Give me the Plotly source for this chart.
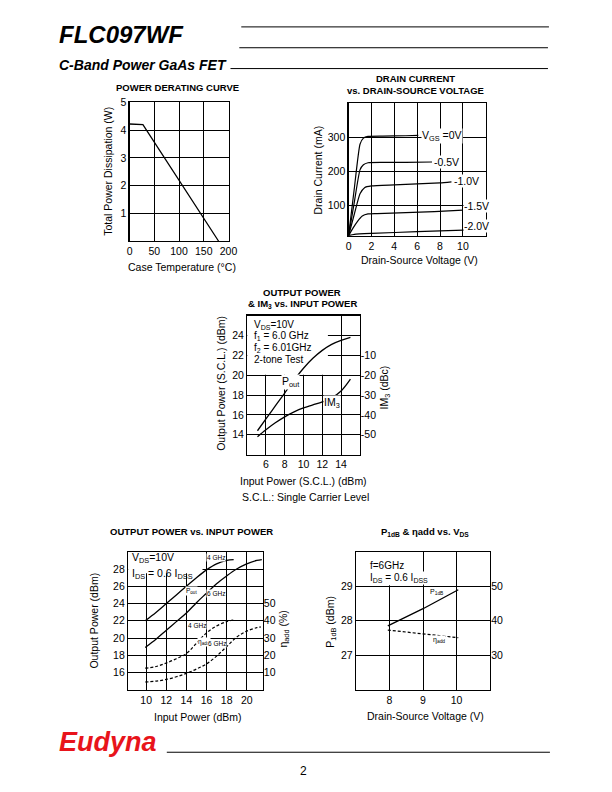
import plotly.graph_objects as go

FONT = "Liberation Sans"
# the page body keeps its default 8px margin, so the figure is drawn 8px in
W, H = 596, 776
OFF = 8


def px(x):
    return (x - OFF) / W


def py(y):
    return 1 - (y - OFF) / H


# ---- power derating curve
derate_temp = [0, 27, 180]
derate_power = [4.22, 4.2, 0]

# ---- drain current vs drain-source voltage (mA)
vds_0v = [0, 0.5, 1.0, 1.3, 1.7, 3, 5, 6.1]
id_0v = [12, 150, 280, 298, 303, 304, 305, 306]
vds_05v = [0, 0.5, 1.0, 1.3, 1.7, 3, 5, 7.3]
id_05v = [12, 110, 205, 220, 226, 227, 227, 228]
vds_10v = [0, 0.5, 1.0, 1.4, 2, 4, 6, 8, 9.0]
id_10v = [12, 75, 135, 153, 158, 161, 164, 167, 170]
vds_15v = [0, 0.4, 0.8, 1.2, 1.7, 2.5, 5, 7.5, 10]
id_15v = [12, 35, 55, 70, 76, 77, 80, 83, 87]
vds_20v = [0, 0.5, 2, 6, 11.4]
id_20v = [12, 16, 19, 24, 30]

# ---- output power & IM3 vs input power (2-tone)
pin_scl = [5.1, 6, 7, 8, 9, 10, 11, 12, 13, 14, 15]
pout_scl = [14.4, 15.6, 16.9, 18.2, 19.5, 20.7, 21.7, 22.5, 23.1, 23.5, 23.8]
im3_dbc = [-51, -47.5, -44, -41, -38.5, -36.5, -35, -33.5, -31.5, -28, -22]

# ---- output power vs input power
pin_4g = [9.9, 11, 12, 13, 14, 15, 16, 17, 18, 18.7]
pout_4g = [22.0, 23.0, 24.0, 25.0, 26.0, 27.0, 27.9, 28.6, 29.0, 29.1]
eta_4g = [12.5, 13.5, 15.5, 18, 21, 27, 33, 37, 39.5, 40.5]
pin_6g = [9.9, 11, 12, 13, 14, 15, 16, 17, 18, 19, 20, 21, 21.5]
pout_6g = [18.9, 19.9, 20.9, 21.9, 22.9, 24.1, 25.2, 26.3, 27.2, 28.0, 28.6, 29.0, 29.1]
pin_6g_eta = [9.9, 11, 12, 13, 14, 15, 16, 17, 18, 19, 20, 21, 21.4]
eta_6g = [4.5, 5, 6, 7.5, 9.5, 12, 15, 19.5, 25, 30.5, 34, 36, 36.5]

# ---- P1dB & eta_add vs VDS
vds_p1db = [7.95, 9, 10.05]
p1db = [27.85, 28.35, 28.9]
eta_p1db = [37.3, 36.3, 35.1]


def axis(x0, x1, rng, tickvals, ticktext=None, grid=True):
    a = dict(domain=[x0, x1], range=rng, tickvals=tickvals,
             showgrid=grid, gridcolor="black", gridwidth=1,
             showline=True, linecolor="black", linewidth=1.2, mirror=True,
             zeroline=False, ticks="", fixedrange=True,
             tickfont=dict(family=FONT, size=10.5, color="black"))
    if ticktext is not None:
        a["ticktext"] = ticktext
    return a


def right_axis(over, rng, tickvals, ticktext):
    return dict(overlaying=over, side="right", range=rng, tickvals=tickvals,
                ticktext=ticktext, showgrid=False, showline=False,
                zeroline=False, ticks="", fixedrange=True,
                tickfont=dict(family=FONT, size=10.5, color="black"))


line = dict(color="black", width=1.3)
dash = dict(color="black", width=1.2, dash="3px,2px")

fig = go.Figure()
fig.add_trace(go.Scatter(x=derate_temp, y=derate_power, mode="lines", line=line, xaxis="x", yaxis="y"))
for xs, ys in [(vds_0v, id_0v), (vds_05v, id_05v), (vds_10v, id_10v), (vds_15v, id_15v), (vds_20v, id_20v)]:
    fig.add_trace(go.Scatter(x=xs, y=ys, mode="lines", line=dict(color="black", width=1.2, shape="spline", smoothing=0.5),
                             xaxis="x2", yaxis="y2"))
fig.add_trace(go.Scatter(x=pin_scl, y=pout_scl, mode="lines", line=dict(line, shape="spline"), xaxis="x3", yaxis="y3"))
fig.add_trace(go.Scatter(x=pin_scl, y=im3_dbc, mode="lines", line=dict(line, shape="spline"), xaxis="x3", yaxis="y4"))
fig.add_trace(go.Scatter(x=pin_4g, y=pout_4g, mode="lines", line=dict(line, shape="spline"), xaxis="x4", yaxis="y5"))
fig.add_trace(go.Scatter(x=pin_6g, y=pout_6g, mode="lines", line=dict(line, shape="spline"), xaxis="x4", yaxis="y5"))
fig.add_trace(go.Scatter(x=pin_4g, y=eta_4g, mode="lines", line=dict(dash, shape="spline"), xaxis="x4", yaxis="y6"))
fig.add_trace(go.Scatter(x=pin_6g_eta, y=eta_6g, mode="lines", line=dict(dash, shape="spline"), xaxis="x4", yaxis="y6"))
fig.add_trace(go.Scatter(x=vds_p1db, y=p1db, mode="lines", line=line, xaxis="x5", yaxis="y7"))
fig.add_trace(go.Scatter(x=vds_p1db, y=eta_p1db, mode="lines", line=dash, xaxis="x5", yaxis="y8"))

layout = dict(
    width=W, height=H, margin=dict(l=0, r=0, t=0, b=0),
    paper_bgcolor="white", plot_bgcolor="white", showlegend=False,
    font=dict(family=FONT, color="black"),
    xaxis=axis(px(129), px(230), [0, 200], [0, 50, 100, 150, 200]),
    yaxis=axis(py(237), py(97), [0, 5], [1, 2, 3, 4, 5]),
    xaxis2=axis(px(352.5), px(492.5), [0, 12], [0, 2, 4, 6, 8, 10]),
    yaxis2=axis(py(231.5), py(98), [12, 400], [100, 200, 300]),
    xaxis3=axis(px(249), px(364), [4, 16], [6, 8, 10, 12, 14]),
    yaxis3=axis(py(452), py(312), [12, 26], [14, 16, 18, 20, 22, 24]),
    yaxis4=right_axis("y3", [-60, 10], [-50, -40, -30, -20, -10], ["-50", "-40", "-30", "-20", "-10"]),
    xaxis4=axis(px(127.5), px(265), [8.2, 21.6], [10, 12, 14, 16, 18, 20]),
    yaxis5=axis(py(689), py(550), [14, 30], [16, 18, 20, 22, 24, 26, 28]),
    yaxis6=right_axis("y5", [0, 80], [10, 20, 30, 40, 50], ["10", "20", "30", "40", "50"]),
    xaxis5=axis(px(360), px(497), [7, 11], [8, 9, 10]),
    yaxis7=axis(py(689), py(550), [26, 30], [27, 28, 29]),
    yaxis8=right_axis("y7", [20, 60], [30, 40, 50], ["30", "40", "50"]),
)
for i in range(2, 6):
    layout["xaxis%d" % i]["anchor"] = "y%d" % {2: 2, 3: 3, 4: 5, 5: 7}[i]
layout["yaxis2"]["anchor"] = "x2"
layout["yaxis3"]["anchor"] = "x3"
layout["yaxis4"]["anchor"] = "x3"
layout["yaxis5"]["anchor"] = "x4"
layout["yaxis6"]["anchor"] = "x4"
layout["yaxis7"]["anchor"] = "x5"
layout["yaxis8"]["anchor"] = "x5"
fig.update_layout(**layout)

ann = []


def text(x, y, s, size=10.5, bold=False, italic=False, angle=0, xanchor="center", color="black", bg=None,
         xref="paper", yref="paper"):
    if bold:
        s = "<b>" + s + "</b>"
    if italic:
        s = "<i>" + s + "</i>"
    d = dict(x=px(x) if xref == "paper" else x, y=py(y) if yref == "paper" else y,
             xref=xref, yref=yref, text=s, showarrow=False, textangle=angle,
             xanchor=xanchor, yanchor="middle", font=dict(family=FONT, size=size, color=color),
             borderpad=0)
    if bg:
        d["bgcolor"] = bg
    ann.append(d)


# header / footer
text(56, 29, "FLC097WF", size=24, bold=True, italic=True, xanchor="left")
text(56, 59, "C-Band Power GaAs FET", size=14, bold=True, italic=True, xanchor="left")
text(56, 742, "Eudyna", size=27, bold=True, italic=True, xanchor="left", color="#e8141b")
text(306, 771, "2", size=12)

# chart titles
text(178, 82, "POWER DERATING CURVE", size=9.5, bold=True)
text(421, 73, "DRAIN CURRENT", size=9.5, bold=True)
text(421, 85, "vs. DRAIN-SOURCE VOLTAGE", size=9.5, bold=True)
text(305, 289, "OUTPUT POWER", size=9.5, bold=True)
text(305, 300, "& IM<sub>3</sub> vs. INPUT POWER", size=9.5, bold=True)
text(192, 530, "OUTPUT POWER vs. INPUT POWER", size=9.5, bold=True)
text(430, 530, "P<sub>1dB</sub> & ηadd vs. V<sub>DS</sub>", size=9.5, bold=True)

# axis titles
text(107, 167, "Total Power Dissipation (W)", angle=-90)
text(183, 263, "Case Temperature (°C)")
text(321, 165, "Drain Current (mA)", angle=-90)
text(425, 256, "Drain-Source Voltage (V)")
text(222, 380, "Output Power (S.C.L.) (dBm)", angle=-90)
text(390, 384, "IM<sub>3</sub> (dBc)", angle=-90)
text(306, 479, "Input Power (S.C.L.) (dBm)")
text(309, 495, "S.C.L.: Single Carrier Level")
text(93, 619, "Output Power (dBm)", angle=-90)
text(287, 628, "η<sub>add</sub> (%)", angle=-90)
text(199, 716, "Input Power (dBm)")
text(335, 620, "P<sub>1dB</sub> (dBm)", angle=-90)
text(431, 715, "Drain-Source Voltage (V)")

# drain current curve labels
text(6.3, 303, "V<sub>GS</sub> =0V", xanchor="left", bg="white", xref="x2", yref="y2")
text(7.4, 228, "-0.5V", xanchor="left", bg="white", xref="x2", yref="y2")
text(9.1, 171, "-1.0V", xanchor="left", bg="white", xref="x2", yref="y2")
text(10.0, 99, "-1.5V", xanchor="left", bg="white", xref="x2", yref="y2")
text(10.0, 42, "-2.0V", xanchor="left", bg="white", xref="x2", yref="y2")

# IM3 chart notes
for yy, s in [(321, "V<sub>DS</sub>=10V"), (333, "f<sub>1</sub> = 6.0 GHz"),
              (344.5, "f<sub>2</sub> = 6.01GHz"), (356.5, "2-tone Test")]:
    text(255, yy, s, size=10, xanchor="left")
text(8.6, 19.3, "P<sub>out</sub>", xref="x3", yref="y3", bg="white")
text(13.0, 17.2, "IM<sub>3</sub>", xref="x3", yref="y3", bg="white")

# output power chart notes
text(130, 556, "V<sub>DS</sub>=10V", size=10.5, xanchor="left")
text(130, 572, "I<sub>DS</sub> = 0.6 I<sub>DSS</sub>", size=10.5, xanchor="left")
text(15.9, 29.3, "4 GHz", size=6.5, xanchor="left", bg="white", xref="x4", yref="y5")
text(13.9, 25.4, "P<sub>out</sub>", size=6.5, xanchor="left", bg="white", xref="x4", yref="y5")
text(15.95, 25.2, "6 GHz", size=6.5, xanchor="left", bg="white", xref="x4", yref="y5")
text(14.1, 21.5, "4 GHz", size=6.5, xanchor="left", bg="white", xref="x4", yref="y5")
text(15.1, 19.5, "η<sub>add</sub>", size=6.5, xanchor="left", bg="white", xref="x4", yref="y5")
text(16.05, 19.4, "6 GHz", size=6.5, xanchor="left", bg="white", xref="x4", yref="y5")

# P1dB chart notes
text(373, 564, "f=6GHz", size=10, xanchor="left", bg="white")
text(373, 576, "I<sub>DS</sub> = 0.6 I<sub>DSS</sub>", size=10, xanchor="left", bg="white")
text(9.19, 28.82, "P<sub>1dB</sub>", size=7, xanchor="left", bg="white", xref="x5", yref="y7")
text(9.28, 27.44, "η<sub>add</sub>", size=7, xanchor="left", bg="white", xref="x5", yref="y7")

shapes = []
for x0, x1, y in [(243, 557, 21), (241, 556, 42), (232, 556, 63), (167, 558, 752)]:
    shapes.append(dict(type="line", xref="paper", yref="paper", x0=px(x0), x1=px(x1), y0=py(y), y1=py(y),
                       line=dict(color="black", width=1)))
# blank areas behind the note blocks (grid hidden, curves still on top)
for xr, yr, x0, x1, y0, y1 in [("x3", "y3", 4, 12.6, 20.05, 26), ("x4", "y5", 8.2, 15.6, 27.5, 30),
                               ("x5", "y7", 7, 8.9, 29.03, 30)]:
    shapes.append(dict(type="rect", xref=xr, yref=yr, x0=x0, x1=x1, y0=y0, y1=y1, layer="between",
                       fillcolor="white", line=dict(width=0)))

fig.update_layout(annotations=ann, shapes=shapes)
fig.write_html("out.html", config={"displayModeBar": False, "staticPlot": True})
